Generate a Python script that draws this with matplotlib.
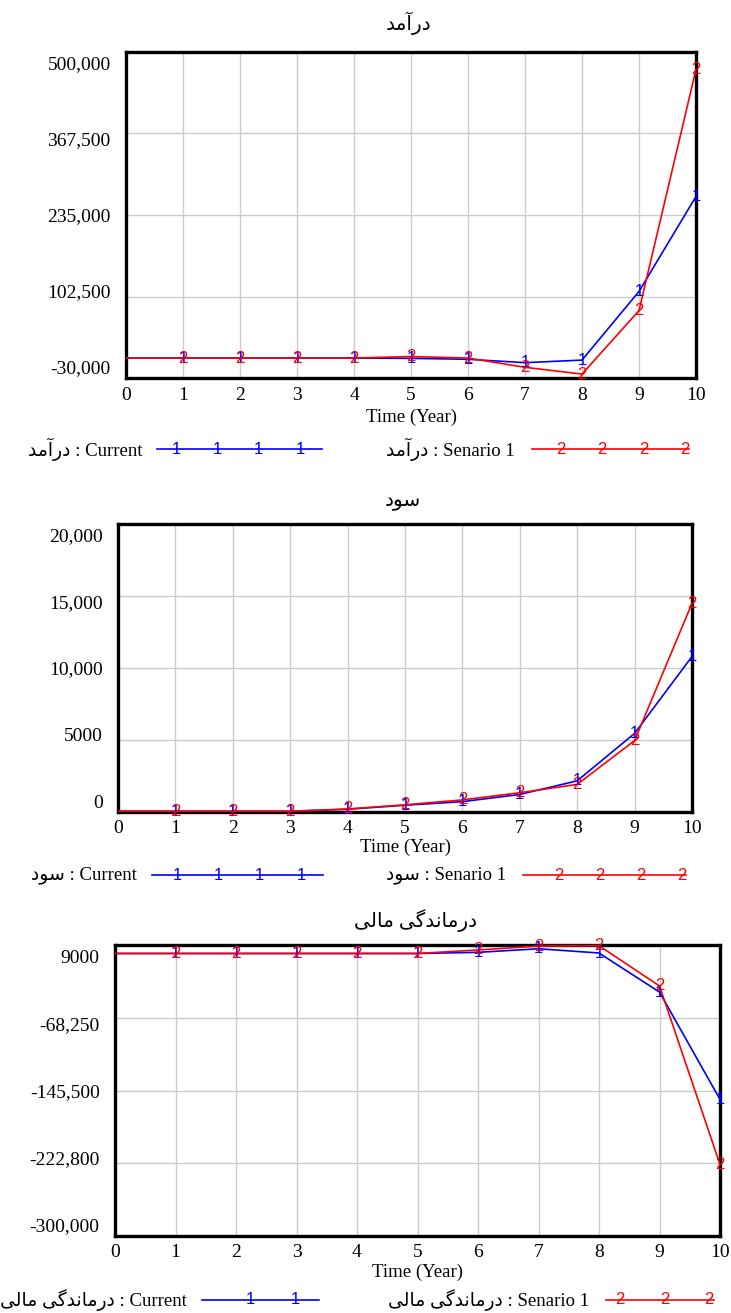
import matplotlib
matplotlib.use('Agg')
import matplotlib.pyplot as plt
from matplotlib.lines import Line2D
from matplotlib.transforms import ScaledTranslation

plt.rcParams['font.family'] = ['Liberation Serif', 'DejaVu Sans']

W, H, DPI = 731, 1313, 100

years = list(range(0, 11))

# Persian names written as presentation forms in visual (left-to-right) order,
# since matplotlib does no Arabic shaping of its own
revenue_name = '\ufeaa\ufee3\ufe81\ufead\ufea9'                      # درآمد
profit_name = '\ufea9\ufeee\ufeb3'                                   # سود
distress_name = ('\ufbfd\ufedf\ufe8e\ufee3 '
                 '\ufbfd\ufb94\ufeaa\ufee7\ufe8e\ufee3\ufead\ufea9')  # درماندگی مالی

# revenue
revenue_current = [3000, 3000, 3000, 3000, 3000, 2500, 1000, -4500, -300, 111000, 265000]
revenue_senario = [3000, 3000, 3000, 3000, 3000, 5500, 3000, -12000, -23000, 80000, 471000]
revenue_ticks = [-30000, 102500, 235000, 367500, 500000]
revenue_labels = ['-30,000', '102,500', '235,000', '367,500', '500,000']

# profit
profit_current = [30, 30, 30, 30, 170, 450, 700, 1200, 2150, 5450, 10800]
profit_senario = [30, 30, 30, 30, 190, 480, 820, 1320, 1900, 4950, 14500]
profit_ticks = [0, 5000, 10000, 15000, 20000]
profit_labels = ['0', '5000', '10,000', '15,000', '20,000']

# financial distress
distress_current = [0, 0, 0, 0, 0, 0, 1200, 5000, 500, -41000, -155000]
distress_senario = [0, 0, 0, 0, 0, 0, 3700, 7900, 8300, -34500, -224000]
distress_ticks = [-300000, -222750, -145500, -68250, 9000]
distress_labels = ['-300,000', '-222,800', '-145,500', '-68,250', '9000']

BLUE = '#0000ff'
RED = '#ff0000'
GRID = '#cccccc'
MARK_SIZE = 12

fig = plt.figure(figsize=(W / DPI, H / DPI), dpi=DPI)
fig.patch.set_facecolor('white')


def fx(px):
    return px / W


def fy(py):
    return 1 - py / H


def panel(box, title, title_y, current, senario, ticks, labels, inset,
          xlabel_y, legend_y, legend_cur, legend_sen, legend_text):
    x0, y0, x1, y1 = box
    ax = fig.add_axes([fx(x0), fy(y1), (x1 - x0) / W, (y1 - y0) / H])
    ax.set_xlim(years[0], years[-1])
    ax.set_ylim(ticks[0], ticks[-1])
    ax.set_xticks(years)
    ax.set_yticks(ticks)
    ax.set_yticklabels(labels)
    ax.grid(True, color=GRID, lw=1.0)
    ax.set_axisbelow(True)
    ax.tick_params(length=0, labelsize=14, pad=11)
    ax.tick_params(axis='x', pad=6)
    for s in ax.spines.values():
        s.set_linewidth(2.4)
        s.set_color('black')

    # end labels sit inside the box, the rest are spread evenly between them
    span = ticks[-1] - ticks[0]
    for v, lab in zip(ticks, ax.get_yticklabels()):
        f = (v - ticks[0]) / span
        dy = inset * (1 - 2 * f) / DPI
        lab.set_transform(lab.get_transform() + ScaledTranslation(0, dy, fig.dpi_scale_trans))

    ax.plot(years, current, color=BLUE, lw=1.2, zorder=3)
    ax.plot(years, senario, color=RED, lw=1.2, zorder=3)
    for x, a, b in zip(years[1:], current[1:], senario[1:]):
        ax.text(x, a, '1', color=BLUE, fontsize=MARK_SIZE, family='Liberation Sans',
                ha='center', va='center', zorder=4, clip_on=False)
        ax.text(x, b, '2', color=RED, fontsize=MARK_SIZE, family='Liberation Sans',
                ha='center', va='center', zorder=4, clip_on=False)

    fig.text(fx((x0 + x1) / 2 - 2), fy(title_y), title, ha='center', va='center', fontsize=14.5)
    fig.text(fx((x0 + x1) / 2), fy(xlabel_y), 'Time (Year)', ha='center', va='center', fontsize=13.5)

    for (tx, lx0, lx1, marks), color, digit, name in [
            (legend_cur, BLUE, '1', legend_text + ' : Current'),
            (legend_sen, RED, '2', legend_text + ' : Senario 1')]:
        fig.text(fx(tx), fy(legend_y), name, ha='right', va='center', fontsize=13.5)
        fig.add_artist(Line2D([fx(lx0), fx(lx1)], [fy(legend_y), fy(legend_y)],
                              color=color, lw=1.2, transform=fig.transFigure))
        for m in marks:
            fig.text(fx(m), fy(legend_y), digit, color=color, fontsize=MARK_SIZE,
                     family='Liberation Sans', ha='center', va='center')
    return ax


panel((126, 51.6, 696, 378.4), revenue_name, 23, revenue_current, revenue_senario,
      revenue_ticks, revenue_labels, 11.4, 417, 449,
      (142, 157, 322, [176, 217, 258, 300]),
      (515, 532, 689, [561, 602, 644, 685]), revenue_name)

panel((118, 524.3, 692, 811.7), profit_name, 502, profit_current, profit_senario,
      profit_ticks, profit_labels, 10.5, 847, 875,
      (137, 152, 323, [177, 218, 259, 301]),
      (506, 523, 686, [559, 600, 641, 682]), profit_name)

panel((115, 945, 720, 1236), distress_name, 921, distress_current, distress_senario,
      distress_ticks, distress_labels, 11.5, 1272, 1300,
      (187, 202, 319, [250, 295]),
      (589, 606, 714, [620, 665, 709]), distress_name)

fig.savefig('out.png', dpi=DPI)
